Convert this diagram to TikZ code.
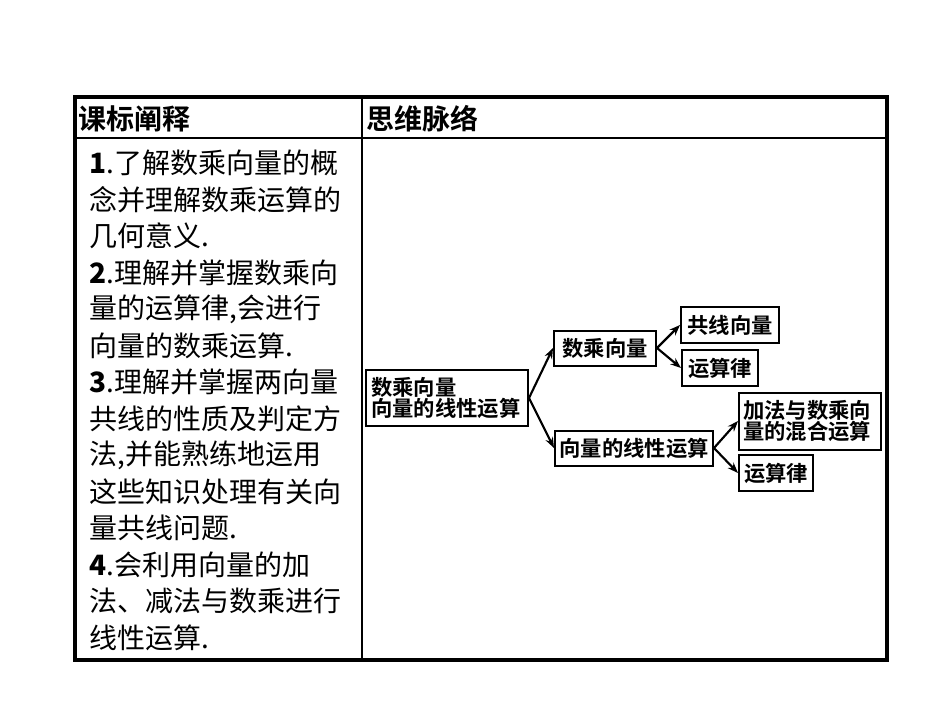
\documentclass[tikz,border=0pt]{standalone}
\usepackage{fontspec}
\newfontfamily\cjk{Noto Sans CJK SC}
\newfontfamily\cjkb{Noto Sans CJK SC Bold}
\usetikzlibrary{arrows.meta}
\begin{document}
\begin{tikzpicture}[x=0.75pt,y=-0.75pt,
  box/.style={draw,line width=1.5pt,inner sep=0pt,font=\cjkb\fontsize{16}{18}\selectfont,align=left},
  arr/.style={-{Stealth[length=8pt,width=6pt]},line width=1.6pt},
  ln/.style={anchor=west,inner sep=0pt,font=\cjk\fontsize{21}{24}\selectfont}]
\useasboundingbox (0,0) rectangle (950,713);
\draw[line width=2.6pt] (75,97) rectangle (887,660);
\draw[line width=1.6pt] (75,138) -- (887,138);
\draw[line width=1.6pt] (362,97) -- (362,660);
\node[anchor=west,inner sep=0pt,font=\cjkb\fontsize{21}{24}\selectfont] (h1) at (78,119) {课标阐释};
\node[anchor=west,inner sep=0pt,font=\cjkb\fontsize{21}{24}\selectfont] (h2) at (366,119) {思维脉络};
\foreach \t [count=\i] in {{\textbf{1}.了解数乘向量的概},{念并理解数乘运算的},{几何意义.},{\textbf{2}.理解并掌握数乘向},{量的运算律,会进行},{向量的数乘运算.},{\textbf{3}.理解并掌握两向量},{共线的性质及判定方},{法,并能熟练地运用},{这些知识处理有关向},{量共线问题.},{\textbf{4}.会利用向量的加},{法、减法与数乘进行},{线性运算.}}
  \node[ln] (l\i) at (89,{163+36.5*(\i-1)}) {\t};
\node[box,minimum width=162*0.75pt,minimum height=56*0.75pt,text width=152*0.75pt] (root) at (447,398) {数乘向量\\[-2pt]向量的线性运算};
\node[box,minimum width=102*0.75pt,minimum height=35*0.75pt] (a) at (605,348) {数乘向量};
\node[box,minimum width=98*0.75pt,minimum height=36*0.75pt] (a1) at (730,325) {共线向量};
\node[box,minimum width=76*0.75pt,minimum height=36*0.75pt] (a2) at (720,368) {运算律};
\node[box,minimum width=158*0.75pt,minimum height=35*0.75pt] (b) at (634,448) {向量的线性运算};
\node[box,minimum width=142*0.75pt,minimum height=57*0.75pt,text width=134*0.75pt] (b1) at (810,421) {加法与数乘向\\[-2pt]量的混合运算};
\node[box,minimum width=74*0.75pt,minimum height=36*0.75pt] (b2) at (776,473) {运算律};
\draw[arr] (root.east) -- (a.west);
\draw[arr] (root.east) -- (b.west);
\draw[arr] (a.east) -- (a1.west);
\draw[arr] (a.east) -- (a2.west);
\draw[arr] (b.east) -- (b1.west);
\draw[arr] (b.east) -- (b2.west);
\end{tikzpicture}
\end{document}
